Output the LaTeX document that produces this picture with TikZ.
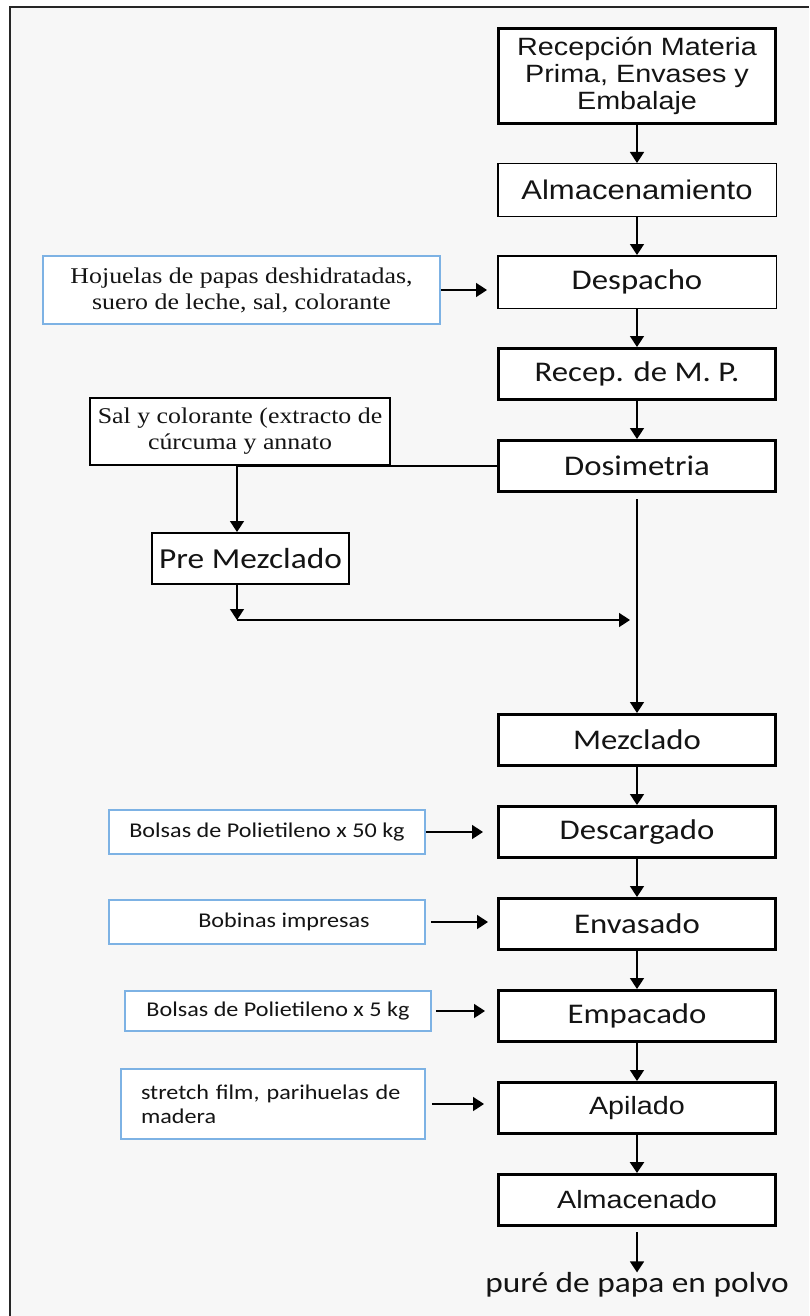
\documentclass[tikz,border=0pt]{standalone}
\usepackage{fontspec}
\setmainfont{Carlito}
\newfontfamily\calib[FakeStretch=1.15]{Carlito}
\newfontfamily\arialf[FakeStretch=1.15]{Liberation Sans}
\newfontfamily\timesf[FakeStretch=1.15]{Liberation Serif}
\usepackage{tikz}
\usetikzlibrary{arrows.meta,positioning}
\definecolor{bggray}{RGB}{247,247,247}
\definecolor{inblue}{RGB}{125,178,228}
\definecolor{ink}{RGB}{20,20,20}

\begin{document}
\begin{tikzpicture}[
  x=1pt, y=-1pt,
  every node/.style={text=ink},
  pbox/.style ={draw, fill=white, line width=3pt,
                minimum width=277pt, minimum height=51pt,
                inner sep=0pt, align=center,
                font=\calib\fontsize{28.5}{32}\selectfont},
  tbox/.style ={pbox, line width=1.5pt,
                minimum width=278.5pt, minimum height=52.5pt},
  ibox/.style ={draw=inblue, fill=white, line width=1.5pt,
                inner sep=0pt, align=center,
                font=\calib\fontsize{21}{24}\selectfont},
  sbox/.style ={draw, fill=white, line width=1.5pt,
                inner sep=0pt, align=center},
  tfont/.style={font=\timesf\fontsize{22.5}{26}\selectfont},
  arr/.style  ={-{Triangle[length=11pt,width=14pt]}, line width=1.6pt},
]
\useasboundingbox (0,0) rectangle (809,1316);

%% ---- frame ------------------------------------------------------------
\fill[bggray] (10,7) rectangle (809,1316);
\draw[line width=1.5pt, black!85] (10,1316) -- (10,7) -- (809,7);

%% ---- main column ------------------------------------------------------
\node[pbox, minimum height=95pt,
      font=\arialf\fontsize{25}{27}\selectfont] (recep) at (637,76)
     {Recepción Materia\\Prima, Envases y\\Embalaje};
\node[tbox, font=\arialf\fontsize{27}{30}\selectfont,
      below=38pt of recep]  (almac) {Almacenamiento};
\node[tbox, below=38pt of almac] (desp)  {Despacho};
\node[pbox, below=38pt of desp]  (recmp) {Recep. de M. P.};
\node[pbox, below=38pt of recmp] (dosim) {Dosimetria};
\node[pbox, below=220pt of dosim] (mezcl) {Mezclado};
\node[pbox, below=38pt of mezcl] (descg) {Descargado};
\node[pbox, below=38pt of descg] (envas) {Envasado};
\node[pbox, below=38pt of envas] (empac) {Empacado};
\node[pbox, font=\arialf\fontsize{25}{28}\selectfont,
      below=38pt of empac] (apil)  {Apilado};
\node[pbox, font=\arialf\fontsize{25}{28}\selectfont,
      below=38pt of apil]  (almcd) {Almacenado};
\node[inner sep=0pt, font=\calib\fontsize{29}{32}\selectfont]
      (prod) at (637,1285) {puré de papa en polvo};

\draw[arr] (recep) -- (almac);
\draw[arr] (almac) -- (desp);
\draw[arr] (desp)  -- (recmp);
\draw[arr] (recmp) -- (dosim);
\draw[arr, shorten <=6pt] (dosim) -- (mezcl);
\draw[arr] (mezcl) -- (descg);
\draw[arr] (descg) -- (envas);
\draw[arr] (envas) -- (empac);
\draw[arr] (empac) -- (apil);
\draw[arr, line width=2.5pt] (apil) -- (almcd);
\draw[arr, shorten <=5pt] (almcd) -- (prod);

%% ---- inputs (left) ----------------------------------------------------
\node[ibox, tfont, minimum width=397pt, minimum height=68pt]
      (hoj) at (241.5,290)
     {Hojuelas de papas deshidratadas,\\suero de leche, sal, colorante};
\node[sbox, tfont, minimum width=300pt, minimum height=67pt]
      (sal) at (240,431.5)
     {Sal y colorante (extracto de\\cúrcuma y annato};
\node[sbox, line width=2pt, minimum width=197pt, minimum height=51pt,
      font=\calib\fontsize{29}{32}\selectfont]
      (pre) at (250.5,558.5) {Pre Mezclado};

\node[ibox, minimum width=316pt, minimum height=44pt]
      (b50) at (267,832) {Bolsas de Polietileno x 50 kg};
\node[ibox, minimum width=316pt, minimum height=44pt]
      (bob) at (267,922) {\hspace*{34pt}Bobinas impresas};
\node[ibox, minimum width=306pt, minimum height=40pt]
      (b5)  at (278,1011) {Bolsas de Polietileno x 5 kg};
\node[ibox, minimum width=304pt, minimum height=70pt,
      text width=264pt, align=left]
      (str) at (273,1104) {stretch film, parihuelas de\\madera};

\draw[arr, shorten >=10pt] (hoj.east) -- (hoj.east -| desp.west);
\draw[arr, shorten >=14pt] (b50.east) -- (b50.east -| descg.west);
\draw[arr, shorten <=5pt, shorten >=9pt] (bob.east) -- (bob.east -| envas.west);
\draw[arr, shorten <=4pt, shorten >=12pt] (b5.east) -- (b5.east -| empac.west);
\draw[arr, shorten <=6pt, shorten >=13pt] (str.east) -- (str.east -| apil.west);

% pre-mix branch
\coordinate (tap) at (237,620);
\draw[arr] (dosim.west) -- (dosim.west -| tap) -- (pre.north -| tap);
\draw[arr] (pre.south -| tap) -- (tap);
\draw[arr, shorten >=7pt] (tap) -- (tap -| dosim.south);

\end{tikzpicture}
\end{document}
